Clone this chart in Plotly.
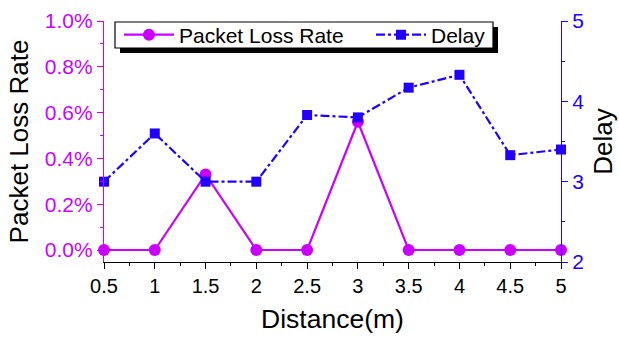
import plotly.graph_objects as go

distance = [0.5, 1, 1.5, 2, 2.5, 3, 3.5, 4, 4.5, 5]
packet_loss = [0.0, 0.0, 0.0033, 0.0, 0.0, 0.0056, 0.0, 0.0, 0.0, 0.0]
delay = [3.0, 3.6, 3.0, 3.0, 3.83, 3.8, 4.17, 4.33, 3.33, 3.4]
x_ticks = [0.5, 1, 1.5, 2, 2.5, 3, 3.5, 4, 4.5, 5]
x_tick_labels = ["0.5", "1", "1.5", "2", "2.5", "3", "3.5", "4", "4.5", "5"]

MAG = "#CC00FF"
BLUE = "#2200FF"
FONT = "Liberation Sans, Arial, sans-serif"

W, H = 619, 339
ML, MR, MT, MB = 104, 58, 21, 77
PW, PH = W - ML - MR, H - MT - MB

fig = go.Figure()
fig.add_trace(go.Scatter(
    x=distance, y=packet_loss, name="Packet Loss Rate", mode="lines+markers",
    line=dict(color=MAG, width=2.2), marker=dict(symbol="circle", size=12, color=MAG),
    cliponaxis=False, yaxis="y", legend="legend"))
fig.add_trace(go.Scatter(
    x=distance, y=delay, name="Delay", mode="lines+markers",
    line=dict(color=BLUE, width=2.2, dash="dashdot"),
    marker=dict(symbol="square", size=10, color=BLUE),
    cliponaxis=False, yaxis="y2", legend="legend2"))

def px2x(p):
    return (p - ML) / PW

def px2y(p):
    return (H - MB - p) / PH

# legend shadow and box
fig.add_shape(type="rect", xref="paper", yref="paper",
              x0=px2x(120), x1=px2x(498), y0=px2y(53), y1=px2y(27),
              fillcolor="black", line=dict(width=0), layer="above")
fig.add_shape(type="rect", xref="paper", yref="paper",
              x0=px2x(115), x1=px2x(493), y0=px2y(48), y1=px2y(22),
              fillcolor="white", line=dict(width=1.2, color="black"), layer="above")

leg_common = dict(orientation="h", xanchor="left", yanchor="middle",
                  bgcolor="rgba(0,0,0,0)", borderwidth=0,
                  font=dict(size=21, color="black"), itemwidth=50)

fig.update_layout(
    width=W, height=H,
    margin=dict(l=ML, r=MR, t=MT, b=MB, autoexpand=False),
    paper_bgcolor="white", plot_bgcolor="white",
    font=dict(family=FONT, size=20, color="black"),
    showlegend=True,
    legend=dict(x=px2x(119), y=px2y(35), **leg_common),
    legend2=dict(x=px2x(371), y=px2y(35), **leg_common),
    xaxis=dict(range=[0.5, 5], tickvals=x_ticks, ticktext=x_tick_labels, automargin=False,
               showgrid=False, zeroline=False, showline=True, linecolor="black", linewidth=1.2,
               ticks="outside", ticklen=6, tickcolor="black",
               minor=dict(dtick=0.25, ticks="outside", ticklen=3, tickcolor="black"),
               tickfont=dict(size=20),
               title=dict(text="Distance(m)", font=dict(size=26.5), standoff=13)),
    yaxis=dict(range=[-0.000524, 0.01], tickvals=[0, 0.002, 0.004, 0.006, 0.008, 0.01],
               tickformat=".1%", showgrid=False, zeroline=False, automargin=False,
               showline=True, linecolor=MAG, linewidth=1.2,
               ticks="outside", ticklen=6, tickcolor=MAG,
               minor=dict(tickvals=[0.001, 0.003, 0.005, 0.007, 0.009], ticks="outside", ticklen=3, tickcolor=MAG),
               tickfont=dict(size=21, color=MAG),
               title=dict(text="Packet Loss Rate", font=dict(size=26, color="black"), standoff=8)),
    yaxis2=dict(range=[2, 5], tickvals=[2, 3, 4, 5], overlaying="y", side="right", automargin=False,
                showgrid=False, zeroline=False, showline=True, linecolor=BLUE, linewidth=1.2,
                ticks="outside", ticklen=6, tickcolor=BLUE,
                minor=dict(tickvals=[2.5, 3.5, 4.5], ticks="outside", ticklen=3, tickcolor=BLUE),
                tickfont=dict(size=21, color=BLUE),
                title=dict(text="Delay", font=dict(size=26, color="black"), standoff=10)),
)

fig.write_html("out.html", config={"displayModeBar": False},
               post_script="document.body.style.margin='0';document.body.style.padding='0';")
